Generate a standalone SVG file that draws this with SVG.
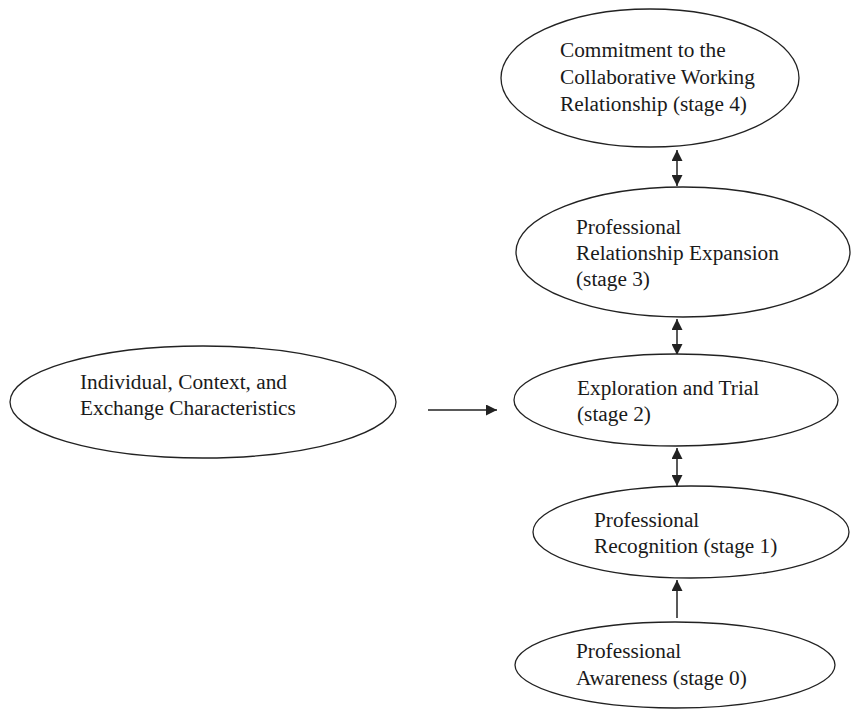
<svg xmlns="http://www.w3.org/2000/svg" width="851" height="711" viewBox="0 0 851 711">
  <defs>
    <style>
      .node ellipse { fill: #fff; stroke: #222; stroke-width: 1.3; }
      .node text { font-family: "Liberation Serif", "Times New Roman", serif; font-size: 21.3px; fill: #1a1a1a; }
      .edge { stroke: #222; stroke-width: 1.5; fill: none; }
    </style>
    <marker id="head" viewBox="0 0 10 10" refX="10" refY="5" markerWidth="11" markerHeight="11" markerUnits="userSpaceOnUse" orient="auto-start-reverse">
      <path d="M0,0 L10,5 L0,10 z" fill="#222"/>
    </marker>
  </defs>
  <rect width="851" height="711" fill="#fff"/>

  <g id="connectors">
    <line class="edge" x1="677" y1="150" x2="677" y2="186" marker-start="url(#head)" marker-end="url(#head)"/>
    <line class="edge" x1="677" y1="319" x2="677" y2="355" marker-start="url(#head)" marker-end="url(#head)"/>
    <line class="edge" x1="677" y1="448" x2="677" y2="486" marker-start="url(#head)" marker-end="url(#head)"/>
    <line class="edge" x1="677" y1="618" x2="677" y2="580" marker-end="url(#head)"/>
    <line class="edge" x1="428" y1="410" x2="497" y2="410" marker-end="url(#head)"/>
  </g>

  <g id="stage4" class="node">
    <ellipse cx="650" cy="78" rx="149" ry="69"/>
    <text x="560" y="57">Commitment to the</text>
    <text x="560" y="84">Collaborative Working</text>
    <text x="560" y="111">Relationship (stage 4)</text>
  </g>

  <g id="stage3" class="node">
    <ellipse cx="683" cy="252" rx="167" ry="65"/>
    <text x="576" y="234">Professional</text>
    <text x="576" y="260">Relationship Expansion</text>
    <text x="576" y="286">(stage 3)</text>
  </g>

  <g id="stage2" class="node">
    <ellipse cx="676" cy="400" rx="162" ry="46"/>
    <text x="577" y="395">Exploration and Trial</text>
    <text x="577" y="421">(stage 2)</text>
  </g>

  <g id="characteristics" class="node">
    <ellipse cx="203" cy="402" rx="193" ry="56"/>
    <text x="80" y="389">Individual, Context, and</text>
    <text x="80" y="415">Exchange Characteristics</text>
  </g>

  <g id="stage1" class="node">
    <ellipse cx="691" cy="532" rx="158" ry="46"/>
    <text x="594" y="527">Professional</text>
    <text x="594" y="553">Recognition (stage 1)</text>
  </g>

  <g id="stage0" class="node">
    <ellipse cx="675" cy="665" rx="160" ry="43"/>
    <text x="576" y="658">Professional</text>
    <text x="576" y="685">Awareness (stage 0)</text>
  </g>
</svg>
